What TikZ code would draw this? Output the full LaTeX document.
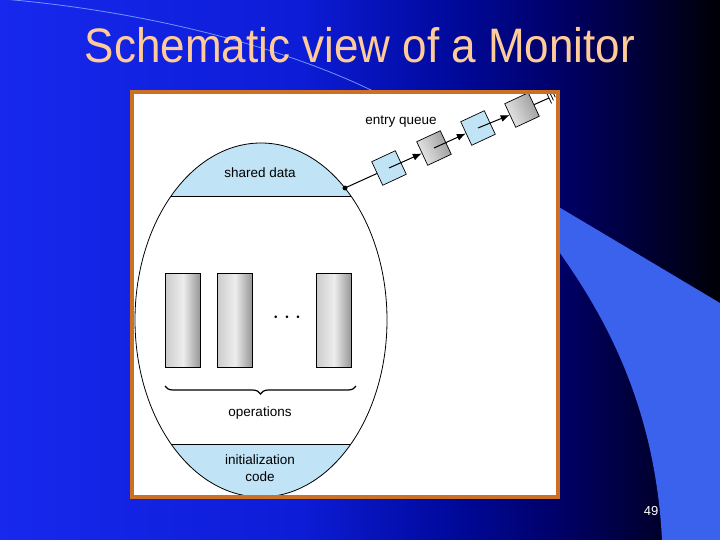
\documentclass[tikz,border=0pt]{standalone}
\usepackage{fontspec}
\setmainfont{Liberation Sans}
\usepackage{tikz}
\usetikzlibrary{arrows.meta, decorations.pathreplacing}

\definecolor{titlecol}{RGB}{255,204,153}
\definecolor{panelcol}{RGB}{204,112,38}
\definecolor{capcol}{RGB}{192,227,246}
\definecolor{swooshcol}{RGB}{58,98,236}
\definecolor{arccol}{RGB}{110,150,255}

\pgfdeclarehorizontalshading{slidebg}{100bp}{rgb(0bp)=(0.09,0.16,0.93); rgb(25bp)=(0.09,0.16,0.93); rgb(46bp)=(0.05,0.11,0.84); rgb(56bp)=(0,0.04,0.62); rgb(64bp)=(0,0,0.40); rgb(70bp)=(0,0,0.2); rgb(75bp)=(0,0,0.02); rgb(100bp)=(0,0,0.02)}

\tikzset{
  lbl/.style={font=\fontsize{13.5}{17}\selectfont, inner sep=1pt, align=center},
  opbox/.style={draw, line width=0.7, minimum width=35, minimum height=94,
    left color=black!20, right color=black!42, middle color=black!7},
  qblue/.style={draw, line width=0.7, minimum size=26, rotate=25, fill=capcol},
  qgray/.style={draw, line width=0.7, minimum size=26, rotate=25,
    left color=black!8, right color=black!40, shading angle=115},
  qarrow/.style={line width=1, -{Latex[length=9pt,width=7pt]}}
}

\begin{document}
\begin{tikzpicture}[x=1pt,y=-1pt]
    \useasboundingbox (0,0) rectangle (720,540);

    % 背景
    \shade[shading=slidebg] (0,0) rectangle (720,540);
    \draw[arccol, line width=0.8] (-10,-2) .. controls (150,10) and (290,50) .. (375,92);
    \fill[swooshcol] (500,172) -- (720,303) -- (720,540) -- (662,540)
        .. controls (655,400) and (600,310) .. (560,253) -- (500,200) -- cycle;

    % 标题
    \node[titlecol, font=\fontsize{44}{50}\selectfont, anchor=base, yscale=1.1]
        (title) at (360,63) {Schematic view of a Monitor};
    \node[white, font=\fontsize{13}{15}\selectfont] (page) at (651,511) {49};

    % 白色面板
    \fill[white] (132,92) rectangle (558,497);

    % 监视器（椭圆）
    \begin{scope}
        \clip (261,320) ellipse [x radius=126, y radius=177];
        \fill[capcol] (120,130) rectangle (400,196);
        \fill[capcol] (120,444) rectangle (400,510);
    \end{scope}
    \draw[line width=0.8] (261,320) ellipse [x radius=126, y radius=177];
    \draw[line width=0.8] (171,196) -- (351,196);
    \draw[line width=0.8] (171,444) -- (351,444);

    \node[lbl] (shared) at (260,173) {shared data};
    \node[lbl] (init) at (260,468) {initialization\\code};

    % 操作
    \foreach \x/\n in {183/op1, 235/op2, 334/op3}
        \node[opbox] (\n) at (\x,320) {};
    \node[font=\fontsize{24}{24}\selectfont] (dots) at (287,318) {$\cdots$};
    \draw[line width=1.2, decorate, decoration={brace, mirror, amplitude=8}]
        (165,386) -- (356,386);
    \node[lbl] (ops) at (260,413) {operations};

    % 入口队列
    \coordinate (entry) at (345,188);
    \node[qblue] (q1) at (389,168) {};
    \node[qgray] (q2) at (434,148) {};
    \node[qblue] (q3) at (478,128) {};
    \node[qgray] (q4) at (522,110) {};
    \coordinate (qend) at (549,98);
    \filldraw (entry) circle (2.2);
    \draw[line width=1] (entry) -- (q1);
    \draw[qarrow] (q1.center) -- (q2);
    \draw[qarrow] (q2.center) -- (q3);
    \draw[qarrow] (q3.center) -- (q4);
    \draw[line width=1] (q4) -- (qend);
    \begin{scope}[shift={(qend)}, rotate=25, line width=0.8]
        \draw (0,-6) -- (0,6);
        \draw (3,-4) -- (3,4);
        \draw (6,-2) -- (6,2);
    \end{scope}
    \node[lbl] (queue) at (401,122) {entry queue};

    % 面板边框
    \draw[panelcol, line width=4] (132,92) rectangle (558,497);
\end{tikzpicture}
\end{document}
